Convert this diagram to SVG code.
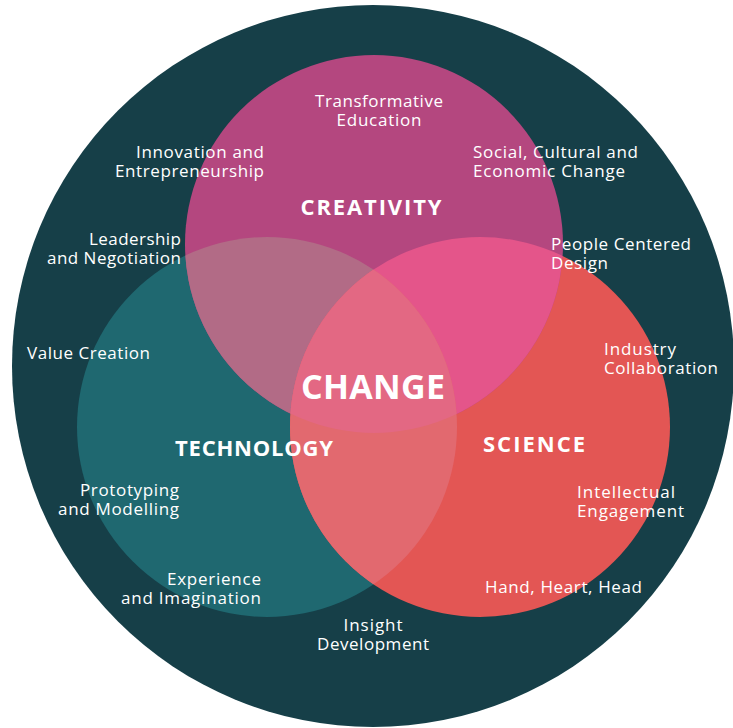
<svg xmlns="http://www.w3.org/2000/svg" width="733" height="728" viewBox="0 0 733 728">
<style>
.t{font-family:"Open Sans","Noto Sans","Liberation Sans",sans-serif;font-size:17px;fill:#ffffff}
.b{font-family:"Open Sans","Noto Sans","Liberation Sans",sans-serif;font-weight:700;fill:#ffffff}
.m{text-anchor:middle}.e{text-anchor:end}
</style>
<defs>
<clipPath id="cP"><circle cx="374" cy="244" r="189"/></clipPath>
<clipPath id="cT"><circle cx="267" cy="427" r="190"/></clipPath>
<clipPath id="cR"><circle cx="480" cy="427" r="190"/></clipPath>
</defs>
<rect width="733" height="728" fill="#ffffff"/>
<g id="outer"><circle cx="373" cy="366" r="361" fill="#163f48"/></g>
<g id="technology"><circle cx="267" cy="427" r="190" fill="#1f6870"/></g>
<g id="science"><circle cx="480" cy="427" r="190" fill="#e35654"/></g>
<g id="creativity"><circle cx="374" cy="244" r="189" fill="#b4477f"/></g>
<g id="overlaps">
<g clip-path="url(#cT)"><circle cx="374" cy="244" r="189" fill="#b26b86"/></g>
<g clip-path="url(#cR)"><circle cx="374" cy="244" r="189" fill="#e4558a"/></g>
<g clip-path="url(#cT)"><circle cx="480" cy="427" r="190" fill="#e2696f"/></g>
<g clip-path="url(#cT)"><g clip-path="url(#cR)"><circle cx="374" cy="244" r="189" fill="#e36883"/></g></g>
</g>
<g id="labels">
<text class="b m" x="371" y="215" font-size="22" textLength="141" lengthAdjust="spacing">CREATIVITY</text>
<text class="b m" x="373" y="399" font-size="34" textLength="144" lengthAdjust="spacing">CHANGE</text>
<text class="b m" x="254" y="456" font-size="22" textLength="158" lengthAdjust="spacing">TECHNOLOGY</text>
<text class="b m" x="534" y="452" font-size="22" textLength="102" lengthAdjust="spacing">SCIENCE</text>
<text class="t m" x="379" y="107" textLength="128" lengthAdjust="spacing">Transformative</text>
<text class="t m" x="379" y="126" textLength="85" lengthAdjust="spacing">Education</text>
<text class="t e" x="264" y="158" textLength="128" lengthAdjust="spacing">Innovation and</text>
<text class="t e" x="264" y="177" textLength="149" lengthAdjust="spacing">Entrepreneurship</text>
<text class="t" x="473" y="158" textLength="165" lengthAdjust="spacing">Social, Cultural and</text>
<text class="t" x="473" y="177" textLength="152" lengthAdjust="spacing">Economic Change</text>
<text class="t e" x="181" y="245" textLength="92" lengthAdjust="spacing">Leadership</text>
<text class="t e" x="181" y="264" textLength="134" lengthAdjust="spacing">and Negotiation</text>
<text class="t" x="551" y="250" textLength="140" lengthAdjust="spacing">People Centered</text>
<text class="t" x="551" y="269" textLength="57" lengthAdjust="spacing">Design</text>
<text class="t" x="27" y="359" textLength="123" lengthAdjust="spacing">Value Creation</text>
<text class="t" x="604" y="355" textLength="72" lengthAdjust="spacing">Industry</text>
<text class="t" x="604" y="374" textLength="114" lengthAdjust="spacing">Collaboration</text>
<text class="t e" x="179" y="496" textLength="99" lengthAdjust="spacing">Prototyping</text>
<text class="t e" x="179" y="515" textLength="121" lengthAdjust="spacing">and Modelling</text>
<text class="t" x="577" y="498" textLength="98" lengthAdjust="spacing">Intellectual</text>
<text class="t" x="577" y="517" textLength="107" lengthAdjust="spacing">Engagement</text>
<text class="t e" x="261" y="585" textLength="94" lengthAdjust="spacing">Experience</text>
<text class="t e" x="261" y="604" textLength="140" lengthAdjust="spacing">and Imagination</text>
<text class="t" x="485" y="593" textLength="157" lengthAdjust="spacing">Hand, Heart, Head</text>
<text class="t m" x="373" y="631" textLength="59" lengthAdjust="spacing">Insight</text>
<text class="t m" x="373" y="650" textLength="112" lengthAdjust="spacing">Development</text>
</g>
</svg>
